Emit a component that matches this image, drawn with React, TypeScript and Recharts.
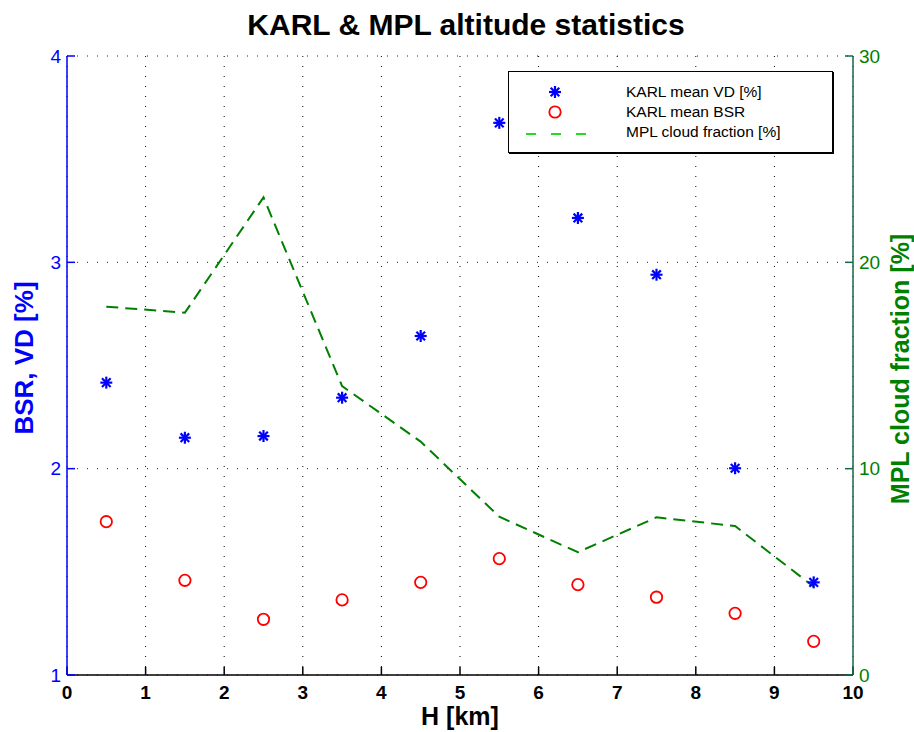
import React from "react";
import { CartesianGrid, ComposedChart, Label, Line, Scatter, XAxis, YAxis } from "recharts";

// altitude bin centres [km]
const heights = [0.5, 1.5, 2.5, 3.5, 4.5, 5.5, 6.5, 7.5, 8.5, 9.5];
const meanVD = [2.417, 2.15, 2.158, 2.344, 2.643, 3.676, 3.215, 2.94, 2.002, 1.449];
const meanBSR = [1.743, 1.459, 1.27, 1.364, 1.449, 1.564, 1.438, 1.377, 1.299, 1.163];
const cloudFraction = [17.85, 17.56, 23.15, 14.0, 11.31, 7.67, 5.95, 7.64, 7.22, 4.28];

const hTicks = [0, 1, 2, 3, 4, 5, 6, 7, 8, 9, 10];
const leftTicks = [1, 2, 3, 4];
const rightTicks = [0, 10, 20, 30];

const seriesNames = ["KARL mean VD [%]", "KARL mean BSR", "MPL cloud fraction [%]"];

const data = heights.map((h, i) => ({
  h,
  vd: meanVD[i],
  bsr: meanBSR[i],
  cloud: cloudFraction[i],
}));

const FONT = "'Liberation Sans', Arial, Helvetica, sans-serif";
const BLUE = "#0000ff";
const GREEN = "#008000";
const AXIS_GREEN = "#13684a";

function Asterisk(props: any) {
  const { cx, cy } = props;
  if (cx == null || cy == null) return null;
  const r = 6;
  const d = r * 0.72;
  return (
    <g stroke={BLUE} strokeWidth={2.2} strokeLinecap="butt">
      <line x1={cx - r} y1={cy} x2={cx + r} y2={cy} />
      <line x1={cx} y1={cy - r} x2={cx} y2={cy + r} />
      <line x1={cx - d} y1={cy - d} x2={cx + d} y2={cy + d} />
      <line x1={cx - d} y1={cy + d} x2={cx + d} y2={cy - d} />
    </g>
  );
}

function OpenCircle(props: any) {
  const { cx, cy } = props;
  if (cx == null || cy == null) return null;
  return <circle cx={cx} cy={cy} r={5.7} fill="none" stroke="#ff0000" strokeWidth={1.8} />;
}

function LegendBox() {
  return (
    <div
      style={{
        position: "absolute",
        left: 508,
        top: 71,
        width: 323,
        height: 80,
        border: "1px solid #000",
        boxShadow: "1px 1px 0 #000",
        background: "#fff",
        fontFamily: FONT,
        fontSize: 15.5,
        color: "#000",
      }}
    >
      {seriesNames.map((name, i) => (
        <div key={name} style={{ position: "absolute", left: 0, top: 10 + i * 20, height: 20, width: "100%" }}>
          <svg width={90} height={20} style={{ position: "absolute", left: 0, top: 0 }}>
            {i === 0 && <Asterisk cx={46} cy={10} />}
            {i === 1 && <OpenCircle cx={46} cy={10} />}
            {i === 2 && (
              <line x1={17} y1={12} x2={78} y2={12} stroke="#22dd22" strokeWidth={2} strokeDasharray="10 15" />
            )}
          </svg>
          <span style={{ position: "absolute", left: 117, top: 1, lineHeight: "18px", whiteSpace: "nowrap" }}>{name}</span>
        </div>
      ))}
    </div>
  );
}

export default function App() {
  return (
    <div style={{ position: "absolute", left: 0, top: 0, width: 914, height: 732, background: "#fff", fontFamily: FONT }}>
      <ComposedChart width={914} height={732} data={data} margin={{ top: 56, right: 0, bottom: 0, left: 0 }}>
        <CartesianGrid
          xAxisId="bottom"
          yAxisId="left"
          horizontal={false}
          stroke="#000"
          strokeDasharray="1 9"
          strokeWidth={1}
        />
        <CartesianGrid
          xAxisId="bottom"
          yAxisId="left"
          vertical={false}
          stroke={BLUE}
          strokeDasharray="1 9"
          strokeWidth={1}
        />
        <XAxis
          xAxisId="top"
          orientation="top"
          type="number"
          dataKey="h"
          domain={[0, 10]}
          ticks={hTicks}
          height={0}
          tick={false}
          tickSize={-8}
          stroke="#000"
          strokeWidth={1.5}
        />
        <XAxis
          xAxisId="bottom"
          type="number"
          dataKey="h"
          domain={[0, 10]}
          ticks={hTicks}
          height={57}
          tickSize={-8}
          tickMargin={19}
          stroke="#000"
          strokeWidth={1.5}
          tick={{ fill: "#000", fontSize: 19, fontWeight: "bold", fontFamily: FONT }}
        >
          <Label
            content={() => (
              <text x={460} y={725} textAnchor="middle" fontSize={25} fontWeight="bold" fill="#000" fontFamily={FONT}>
                H [km]
              </text>
            )}
          />
        </XAxis>
        <YAxis
          yAxisId="left"
          domain={[1, 4]}
          ticks={leftTicks}
          width={67}
          tickSize={-8}
          tickMargin={14}
          stroke={BLUE}
          strokeWidth={1.5}
          tick={{ fill: BLUE, fontSize: 19, fontFamily: FONT }}
        >
          <Label
            content={() => (
              <text
                x={24}
                y={358}
                transform="rotate(-90 24 358)"
                textAnchor="middle"
                dominantBaseline="central"
                fontSize={26}
                fontWeight="bold"
                fill={BLUE}
                fontFamily={FONT}
              >
                BSR, VD [%]
              </text>
            )}
          />
        </YAxis>
        <YAxis
          yAxisId="right"
          orientation="right"
          domain={[0, 30]}
          ticks={rightTicks}
          width={61}
          tickSize={-8}
          tickMargin={14}
          stroke={AXIS_GREEN}
          strokeWidth={1.5}
          tick={{ fill: GREEN, fontSize: 19, fontFamily: FONT }}
        >
          <Label
            content={() => (
              <text
                x={900}
                y={369}
                transform="rotate(-90 900 369)"
                textAnchor="middle"
                dominantBaseline="central"
                fontSize={25}
                fontWeight="bold"
                fill={GREEN}
                fontFamily={FONT}
              >
                MPL cloud fraction [%]
              </text>
            )}
          />
        </YAxis>
        <Line
          xAxisId="bottom"
          yAxisId="right"
          type="linear"
          dataKey="cloud"
          stroke={GREEN}
          strokeWidth={2}
          strokeDasharray="12 7"
          dot={false}
          activeDot={false}
          isAnimationActive={false}
        />
        <Scatter xAxisId="bottom" yAxisId="left" dataKey="bsr" shape={OpenCircle} isAnimationActive={false} />
        <Scatter xAxisId="bottom" yAxisId="left" dataKey="vd" shape={Asterisk} isAnimationActive={false} />
      </ComposedChart>
      <div
        style={{
          position: "absolute",
          left: 0,
          width: 932,
          top: 8,
          textAlign: "center",
          fontSize: 30,
          fontWeight: "bold",
          lineHeight: "34px",
          color: "#000",
        }}
      >
        KARL &amp; MPL altitude statistics
      </div>
      <LegendBox />
    </div>
  );
}
